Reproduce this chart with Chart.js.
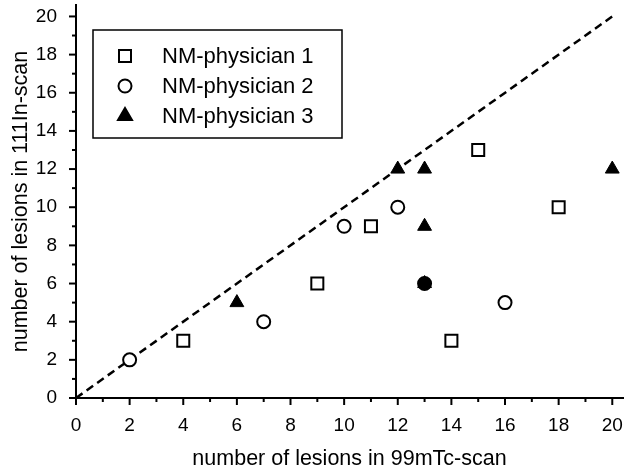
<!DOCTYPE html>
<html>
<head>
<meta charset="utf-8">
<script src="https://cdn.jsdelivr.net/npm/chart.js@4/dist/chart.umd.min.js"></script>
<style>
  html, body { margin: 0; padding: 0; background: #fff; }
  #wrap { width: 627px; height: 470px; }
</style>
</head>
<body>
<div id="wrap"><canvas id="lesionChart"></canvas></div>
<script>
// lesion counts per physician: x = 99mTc-scan, y = 111In-scan
const p1X = [4, 9, 11, 14, 15, 18];
const p1Y = [3, 6, 9, 3, 13, 10];
const p2X = [2, 7, 10, 12, 13, 16];
const p2Y = [2, 4, 9, 10, 6, 5];
const p3X = [6, 12, 13, 13, 13, 20];
const p3Y = [5, 12, 12, 9, 6, 12];
const seriesNames = ['NM-physician 1', 'NM-physician 2', 'NM-physician 3'];
// line of identity
const idX = [0, 20];
const idY = [0, 20];
const tickValues = [0, 2, 4, 6, 8, 10, 12, 14, 16, 18, 20];

const toPoints = (xs, ys) => xs.map((x, i) => ({ x: x, y: ys[i] }));
const FONT = '"Liberation Sans", Arial, Helvetica, sans-serif';

// circle hidden under a triangle shows up filled
function circleFill(c) {
  const p = c.raw;
  if (!p) return '#fff';
  const hit = p3X.some((x, i) => x === p.x && p3Y[i] === p.y);
  return hit ? '#000' : '#fff';
}

// major/minor ticks on both axes
const tickPlugin = {
  id: 'ticks',
  afterDraw(chart) {
    const ctx = chart.ctx;
    const xs = chart.scales.x, ys = chart.scales.y;
    const x0 = xs.getPixelForValue(0), y0 = ys.getPixelForValue(0);
    ctx.save();
    ctx.strokeStyle = '#000';
    ctx.lineWidth = 2;
    for (let v = 0; v <= 20; v++) {
      const len = v % 2 === 0 ? 7 : 4;
      const px = xs.getPixelForValue(v);
      ctx.beginPath();
      ctx.moveTo(px, y0);
      ctx.lineTo(px, y0 + len);
      ctx.stroke();
      const py = ys.getPixelForValue(v);
      ctx.beginPath();
      ctx.moveTo(x0, py);
      ctx.lineTo(x0 - len, py);
      ctx.stroke();
    }
    ctx.restore();
  }
};

function drawMarker(ctx, style, x, y, fill) {
  ctx.beginPath();
  if (style === 'rect') {
    ctx.rect(x - 6, y - 6, 12, 12);
  } else if (style === 'circle') {
    ctx.arc(x, y, 6.5, 0, Math.PI * 2);
  } else {
    ctx.moveTo(x, y - 8);
    ctx.lineTo(x + 7, y + 4);
    ctx.lineTo(x - 7, y + 4);
    ctx.closePath();
  }
  ctx.fillStyle = fill;
  ctx.fill();
  ctx.stroke();
}

// boxed legend inside the plot
const legendBox = {
  id: 'legendBox',
  afterDraw(chart) {
    const ctx = chart.ctx;
    ctx.save();
    ctx.strokeStyle = '#000';
    ctx.lineWidth = 1.5;
    ctx.strokeRect(93, 30, 249, 108);
    const styles = ['rect', 'circle', 'triangle'];
    const fills = ['#fff', '#fff', '#000'];
    ctx.font = '22px ' + FONT;
    ctx.textBaseline = 'middle';
    seriesNames.forEach((name, i) => {
      const y = 56 + i * 30;
      ctx.lineWidth = 2;
      drawMarker(ctx, styles[i], 125, y, fills[i]);
      ctx.fillStyle = '#000';
      ctx.fillText(name, 162, y + 1);
    });
    ctx.restore();
  }
};

new Chart(document.getElementById('lesionChart'), {
  type: 'scatter',
  data: {
    datasets: [
      {
        label: seriesNames[0],
        data: toPoints(p1X, p1Y),
        pointStyle: 'rect',
        pointRadius: 8.5,
        pointBorderWidth: 2,
        borderColor: '#000',
        backgroundColor: '#fff',
        order: 2
      },
      {
        label: seriesNames[1],
        data: toPoints(p2X, p2Y),
        pointStyle: 'circle',
        pointRadius: 6.5,
        pointBorderWidth: 2,
        borderColor: '#000',
        backgroundColor: circleFill,
        order: 1
      },
      {
        label: seriesNames[2],
        data: toPoints(p3X, p3Y),
        pointStyle: 'triangle',
        pointRadius: 8,
        pointBorderWidth: 1,
        borderColor: '#000',
        backgroundColor: '#000',
        order: 0
      },
      {
        type: 'line',
        label: 'identity',
        data: toPoints(idX, idY),
        borderColor: '#000',
        borderWidth: 2.5,
        borderDash: [8, 5],
        pointRadius: 0,
        fill: false,
        order: 3
      }
    ]
  },
  options: {
    responsive: true,
    maintainAspectRatio: false,
    animation: false,
    events: [],
    layout: { autoPadding: false, padding: { top: 5, right: 4, left: 0, bottom: 0 } },
    plugins: {
      legend: { display: false },
      tooltip: { enabled: false }
    },
    scales: {
      x: {
        type: 'linear',
        min: 0,
        max: 20.4,
        afterFit(s) { s.height = 72; s.paddingLeft = 0; s.paddingRight = 0; },
        afterBuildTicks(s) { s.ticks = tickValues.map(v => ({ value: v })); },
        grid: { display: false },
        border: { display: true, color: '#000', width: 2 },
        ticks: {
          color: '#000',
          padding: 8,
          maxRotation: 0,
          font: { family: FONT, size: 19 }
        },
        title: {
          display: true,
          text: 'number of lesions in 99mTc-scan',
          color: '#000',
          font: { family: FONT, size: 21.5 },
          padding: { top: 0, bottom: -2 }
        }
      },
      y: {
        type: 'linear',
        min: 0,
        max: 20.6,
        afterFit(s) { s.width = 76; s.paddingTop = 0; s.paddingBottom = 0; },
        afterBuildTicks(s) { s.ticks = tickValues.map(v => ({ value: v })); },
        grid: { display: false },
        border: { display: true, color: '#000', width: 2 },
        ticks: {
          color: '#000',
          padding: 11,
          font: { family: FONT, size: 19 }
        },
        title: {
          display: true,
          text: 'number of lesions in 111In-scan',
          color: '#000',
          font: { family: FONT, size: 21.5 },
          padding: { top: 8, bottom: 0 }
        }
      }
    }
  },
  plugins: [tickPlugin, legendBox]
});
</script>
</body>
</html>
